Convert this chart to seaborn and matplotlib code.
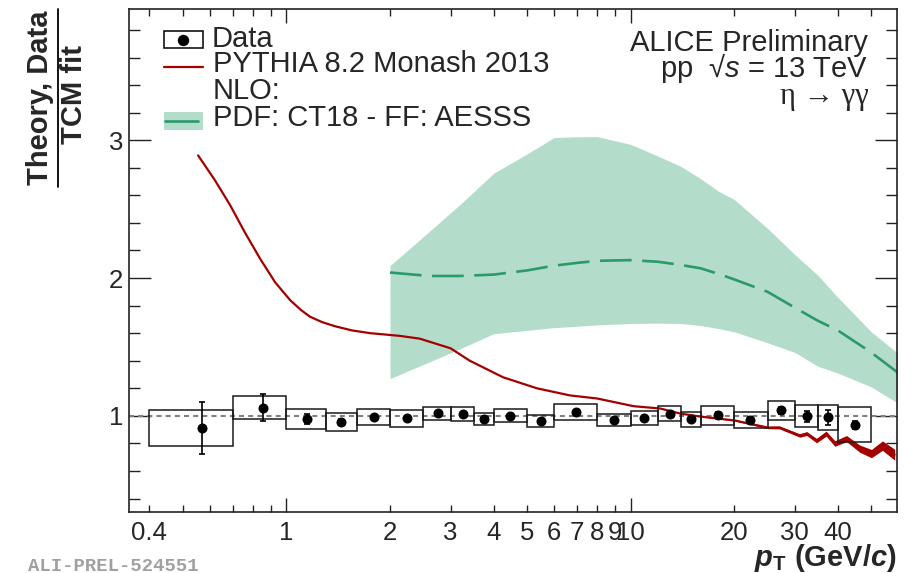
import matplotlib
matplotlib.use("Agg")
import numpy as np
import pandas as pd
import matplotlib.pyplot as plt
import seaborn as sns
from matplotlib.ticker import FixedLocator, FixedFormatter
from matplotlib.patches import Rectangle
from matplotlib.lines import Line2D

# ---- measured eta/TCM ratio (data) ----
bin_lo = [0.4, 0.7, 1.0, 1.3, 1.6, 2.0, 2.5, 3.0, 3.5, 4.0, 5.0, 6.0, 8.0,
          10, 12, 14, 16, 20, 25, 30, 35, 40]
bin_hi = [0.7, 1.0, 1.3, 1.6, 2.0, 2.5, 3.0, 3.5, 4.0, 5.0, 6.0, 8.0, 10,
          12, 14, 16, 20, 25, 30, 35, 40, 50]
data_pt = [0.57, 0.854, 1.146, 1.445, 1.797, 2.24, 2.75, 3.25, 3.75, 4.47,
           5.49, 6.93, 8.95, 10.95, 13.0, 15.0, 17.9, 22.3, 27.4, 32.5, 37.4, 44.8]
data_ratio = [0.91, 1.06, 0.977, 0.958, 0.993, 0.981, 1.018, 1.015, 0.975, 1.0,
              0.962, 1.027, 0.97, 0.984, 1.015, 0.974, 1.005, 0.97, 1.039, 0.996,
              0.99, 0.936]
data_stat = [0.19, 0.095, 0.035, 0.02, 0.015, 0.015, 0.015, 0.015, 0.015, 0.015,
             0.015, 0.015, 0.015, 0.015, 0.015, 0.02, 0.02, 0.02, 0.025, 0.04,
             0.055, 0.03]
data_sys = [0.131, 0.083, 0.072, 0.065, 0.058, 0.064, 0.045, 0.049, 0.045, 0.046,
            0.046, 0.056, 0.046, 0.049, 0.056, 0.057, 0.069, 0.057, 0.068, 0.079,
            0.091, 0.128]

# ---- PYTHIA 8.2 Monash 2013 / TCM ----
pythia_pt = [0.554, 0.62, 0.686, 0.758, 0.839, 0.927, 1.025, 1.1, 1.17, 1.27,
             1.385, 1.55, 1.75, 2.14, 2.44, 3.0, 3.41, 4.26, 5.34, 6.67, 7.99,
             10.2, 12.2, 13.9, 15.9, 20.1, 25.0, 27.1, 31.0, 32.5, 34.7, 37.0,
             39.2, 42.4, 46.3, 50.1, 53.9, 58.5]
pythia_ratio = [2.89, 2.71, 2.53, 2.33, 2.14, 1.97, 1.84, 1.77, 1.72, 1.68,
                1.65, 1.62, 1.60, 1.58, 1.56, 1.49, 1.40, 1.28, 1.20, 1.148,
                1.126, 1.07, 1.053, 1.017, 0.995, 0.966, 0.915, 0.915, 0.857,
                0.871, 0.82, 0.871, 0.799, 0.835, 0.762, 0.726, 0.784, 0.718]
pythia_err = [0, 0, 0, 0, 0, 0, 0, 0, 0, 0, 0, 0, 0, 0, 0, 0, 0, 0, 0, 0, 0,
              0, 0, 0, 0, 0.004, 0.008, 0.01, 0.012, 0.014, 0.016, 0.018, 0.02,
              0.022, 0.026, 0.03, 0.034, 0.04]

# ---- NLO (PDF: CT18, FF: AESSS) / TCM ----
nlo_pt = [2, 2.6, 3.2, 4, 5, 6, 7, 8, 10, 12, 14, 16, 18, 20, 25, 30, 35, 40, 50, 60]
nlo_mid = [2.04, 2.015, 2.015, 2.025, 2.055, 2.09, 2.11, 2.125, 2.13, 2.118,
           2.095, 2.07, 2.03, 1.99, 1.90, 1.785, 1.69, 1.62, 1.46, 1.31]
nlo_lo = [1.27, 1.391, 1.487, 1.596, 1.62, 1.64, 1.65, 1.66, 1.67, 1.673,
          1.67, 1.655, 1.633, 1.61, 1.53, 1.46, 1.36, 1.31, 1.21, 1.09]
nlo_hi = [2.09, 2.337, 2.535, 2.76, 2.90, 3.02, 3.025, 3.026, 2.97, 2.885,
          2.81, 2.72, 2.63, 2.57, 2.36, 2.17, 2.02, 1.86, 1.61, 1.45]

# ---- axis ticks ----
x_major = [1, 10]
x_minor = [0.4, 0.5, 0.6, 0.7, 0.8, 0.9, 2, 3, 4, 5, 6, 7, 8, 9, 20, 30, 40, 50]
x_minor_labels = ["0.4", "", "", "", "", "", "2", "3", "4", "5", "6", "7", "8",
                  "9", "20", "30", "40", ""]
y_major = [1, 2, 3]
y_minor = [0.4, 0.6, 0.8, 1.2, 1.4, 1.6, 1.8, 2.2, 2.4, 2.6, 2.8, 3.2, 3.4, 3.6, 3.8]

RED = "#a50000"
GREEN = "#2a9a68"
BAND = "#b4dccb"
AXIS = "#222222"

sns.set_style("ticks")
plt.rcParams["font.family"] = ["Liberation Sans", "DejaVu Sans"]
plt.rcParams["mathtext.fontset"] = "custom"
plt.rcParams["mathtext.rm"] = "Liberation Sans"
plt.rcParams["mathtext.it"] = "Liberation Sans:italic"
plt.rcParams["mathtext.bf"] = "Liberation Sans:bold"
plt.rcParams["mathtext.sf"] = "Liberation Sans:italic:bold"

W, H = 920, 573
fig = plt.figure(figsize=(W / 100, H / 100), dpi=100)
fig.patch.set_facecolor("white")


def fx(px):
    return px / W


def fy(py):
    return 1 - py / H


ax = fig.add_axes([fx(129), fy(512.3), fx(896.7) - fx(129), fy(9.3) - fy(512.3)])
ax.set_facecolor("white")
ax.set_xscale("log")

# NLO band and central value
ax.fill_between(nlo_pt, nlo_lo, nlo_hi, color=BAND, lw=0, zorder=1)
sns.lineplot(x=nlo_pt, y=nlo_mid, ax=ax, color=GREEN, lw=1.9,
             linestyle=(0, (12, 4)), sort=False, estimator=None, zorder=2)

# unity reference
ax.axhline(1.0, color="#808080", lw=1.5, ls=(0, (2.4, 2.0)), zorder=2)

# PYTHIA curve with its statistical band
p_ratio = np.array(pythia_ratio)
p_err = np.array(pythia_err)
ax.fill_between(pythia_pt, p_ratio - p_err, p_ratio + p_err,
                color=RED, lw=0, zorder=3)
sns.lineplot(x=pythia_pt, y=pythia_ratio, ax=ax, color=RED, lw=1.6,
             sort=False, estimator=None, zorder=3)

# systematic boxes
lo = np.array(bin_lo)
hi = np.array(bin_hi)
val = np.array(data_ratio)
sys_ = np.array(data_sys)
ax.bar(lo, 2 * sys_, width=hi - lo, bottom=val - sys_, align="edge",
       fill=False, edgecolor="#1a1a1a", lw=1.1, zorder=4)

# statistical error bars and points
ax.errorbar(data_pt, data_ratio, yerr=data_stat, fmt="none", ecolor="black",
            elinewidth=1.2, capsize=2, capthick=1.2, zorder=5)
sns.scatterplot(x=data_pt, y=data_ratio, ax=ax, color="black", s=52,
                edgecolor="black", linewidth=0, zorder=6)

ax.set_xlim(0.349, 59.3)
ax.set_ylim(0.3, 3.95)

ax.xaxis.set_major_locator(FixedLocator(x_major))
ax.xaxis.set_major_formatter(FixedFormatter([str(v) for v in x_major]))
ax.xaxis.set_minor_locator(FixedLocator(x_minor))
ax.xaxis.set_minor_formatter(FixedFormatter(x_minor_labels))
ax.yaxis.set_major_locator(FixedLocator(y_major))
ax.yaxis.set_major_formatter(FixedFormatter([str(v) for v in y_major]))
ax.yaxis.set_minor_locator(FixedLocator(y_minor))

ax.tick_params(axis="x", which="both", direction="in", top=True, bottom=True,
               labelsize=18.5, pad=6, color=AXIS, width=1.0)
ax.tick_params(axis="x", which="major", length=10)
ax.tick_params(axis="x", which="minor", length=4.7)
ax.tick_params(axis="y", which="both", direction="in", left=True, right=True,
               labelsize=18.5, pad=4, color=AXIS, width=1.0)
ax.tick_params(axis="y", which="major", length=16)
ax.tick_params(axis="y", which="minor", length=8)
for s in ax.spines.values():
    s.set_color(AXIS)
    s.set_linewidth(1.2)
ax.set_xlabel("")
ax.set_ylabel("")

# y-axis title as a fraction
fig.text(fx(40), fy(98), "Theory, Data", rotation=90, ha="center", va="center",
         fontsize=21, fontweight="bold")
fig.add_artist(Line2D([fx(58), fx(58)], [fy(9), fy(187)], color="black", lw=1.3))
fig.text(fx(74), fy(94), "TCM fit", rotation=90, ha="center", va="center",
         fontsize=21, fontweight="bold")

# x-axis title
fig.text(fx(896.7), fy(566), r"$\mathsf{p}_{\mathbf{T}}$ (GeV/$\mathsf{c}$)",
         ha="right", va="baseline", fontsize=21, fontweight="bold")

# legend
fig.add_artist(Rectangle((fx(164), fy(48)), fx(203) - fx(164), fy(31) - fy(48),
                         fill=False, edgecolor="black", lw=1.1))
fig.add_artist(Line2D([fx(183.5)], [fy(39.5)], marker="o", color="black",
                      markersize=7.2, lw=0))
fig.add_artist(Line2D([fx(164), fx(203)], [fy(67), fy(67)], color=RED, lw=1.6))
fig.add_artist(Rectangle((fx(164), fy(130)), fx(203) - fx(164), fy(112) - fy(130),
                         facecolor=BAND, edgecolor="none"))
fig.add_artist(Line2D([fx(165), fx(198)], [fy(121), fy(121)], color=GREEN, lw=1.9))
leg_fs = 21
fig.text(fx(212), fy(47), "Data", fontsize=leg_fs, va="baseline")
fig.text(fx(213), fy(72), "PYTHIA 8.2 Monash 2013", fontsize=leg_fs, va="baseline")
fig.text(fx(213), fy(99), "NLO:", fontsize=leg_fs, va="baseline")
fig.text(fx(213), fy(126), "PDF: CT18 - FF: AESSS", fontsize=leg_fs, va="baseline")

# system labels
fig.text(fx(868.3), fy(51), "ALICE Preliminary", fontsize=leg_fs, ha="right",
         va="baseline")
fig.text(fx(868.3), fy(77), r"pp  √$\mathit{s}$ = 13 TeV", fontsize=leg_fs,
         ha="right", va="baseline")
fig.text(fx(869), fy(104), "η → γγ", fontsize=22, ha="right", va="baseline",
         family=["Liberation Serif", "DejaVu Serif"])

fig.text(fx(28), fy(571), "ALI-PREL-524551", fontsize=13.6, color="#a0a0a0",
         family=["Liberation Mono", "DejaVu Sans Mono"], fontweight="bold",
         va="baseline")

fig.savefig("out.png", dpi=100, facecolor="white")
